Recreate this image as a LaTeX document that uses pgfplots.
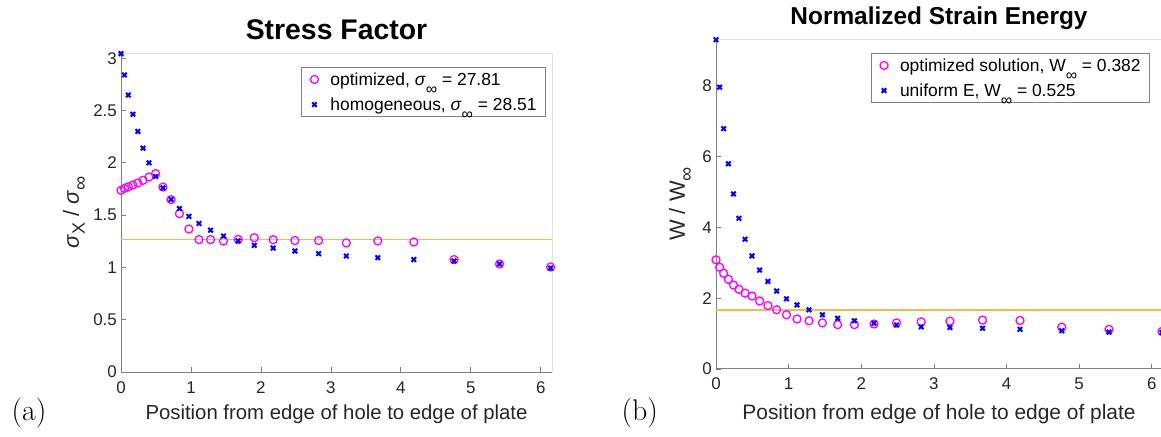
\documentclass[border=0pt]{standalone}
\usepackage{fontspec}
\setsansfont{Liberation Sans}
\renewcommand{\familydefault}{\sfdefault}
\usepackage{pgfplots}
\pgfplotsset{compat=1.18}
\usepackage{pgfplotstable}

\definecolor{axgray}{RGB}{128,128,128}
\definecolor{boxgray}{RGB}{225,225,225}
\definecolor{txt}{RGB}{38,38,38}
\definecolor{mag}{RGB}{255,0,255}
\definecolor{blu}{RGB}{0,0,255}
\definecolor{orng}{RGB}{245,188,75}

% lowered subscript, matlab style: [size]{shift}{text}
\newcommand{\lsub}[3][15]{\raisebox{-#2}{\fontsize{#1}{#1}\selectfont #3}}

% x: position along the plate; opt / hom: the two series
\pgfplotstableread{
x      opt    hom
0      1.737  3.044
0.05   1.756  2.840
0.105  1.771  2.648
0.17   1.788  2.464
0.24   1.807  2.300
0.315  1.833  2.140
0.40   1.864  2.000
0.495  1.897  1.870
0.60   1.768  1.760
0.715  1.648  1.650
0.835  1.514  1.563
0.97   1.367  1.488
1.115  1.266  1.420
1.28   1.266  1.356
1.465  1.253  1.300
1.675  1.268  1.253
1.905  1.284  1.211
2.175  1.265  1.185
2.485  1.257  1.157
2.825  1.257  1.132
3.22   1.234  1.109
3.67   1.253  1.093
4.185  1.243  1.075
4.76   1.075  1.061
5.41   1.033  1.033
6.14   1.004  0.994
}\stress

\pgfplotstableread{
x      opt    uni
0      3.08   9.29
0.05   2.87   7.95
0.105  2.70   6.78
0.17   2.53   5.79
0.24   2.37   4.94
0.315  2.25   4.25
0.40   2.14   3.66
0.495  2.06   3.19
0.60   1.92   2.79
0.715  1.79   2.47
0.835  1.67   2.20
0.97   1.53   1.98
1.115  1.41   1.81
1.28   1.36   1.67
1.465  1.30   1.53
1.675  1.25   1.43
1.905  1.25   1.36
2.175  1.27   1.29
2.485  1.30   1.24
2.825  1.33   1.19
3.22   1.35   1.17
3.67   1.38   1.15
4.185  1.37   1.12
4.76   1.18   1.08
5.41   1.12   1.04
6.14   1.06   1.03
}\energy

\pgfplotsset{
  matlab/.style={
    scale only axis,
    axis lines*=left,
    axis line style={axgray, line width=1bp},
    tick align=inside,
    major tick length=5bp,
    every tick/.style={axgray, line width=0.8bp},
    tick label style={font=\fontsize{17}{17}\selectfont, text=txt},
    /pgf/number format/assume math mode=true,
    xticklabel style={anchor=base, yshift=-21bp},
    yticklabel style={anchor=east, inner sep=0pt, xshift=-4bp},
    xlabel style={anchor=base, text=txt},
    ylabel style={anchor=center, font=\fontsize{22}{22}\selectfont, text=txt},
    title style={anchor=base},
    legend style={draw=axgray, line width=0.8bp, font=\fontsize{17.5}{17.5}\selectfont,
      inner xsep=9bp, inner ysep=3bp, row sep=7bp,
      nodes={inner xsep=0bp, inner ysep=2bp},
      /tikz/every odd column/.append style={column sep=12bp}},
    legend cell align=left,
    clip=false,
    xmin=0, ymin=0,
    xtick={0,1,2,3,4,5,6},
    xlabel={Position from edge of hole to edge of plate},
  },
  optmark/.style={only marks, mark=o, mark size=4bp,
    mark options={line width=1.3bp}, color=mag},
  hommark/.style={only marks, mark=x, mark size=3.2bp,
    mark options={line width=2bp}, color=blu},
  refline/.style={orng, solid, line width=1.7bp, no markers, forget plot},
}

\begin{document}
\begin{tikzpicture}
\path[use as bounding box] (0,0) rectangle (1161bp,437bp);

\begin{axis}[matlab,
  at={(121bp,65bp)}, anchor=south west,
  width=431bp, height=319bp,
  xmax=6.16, ymax=3.05,
  ytick={0,0.5,1,1.5,2,2.5,3},
  xlabel style={at={(axis description cs:0.5,0)}, yshift=-47bp,
    font=\fontsize{20.4}{20.4}\selectfont},
  ylabel style={at={(axis description cs:-0.1067,0.5)}},
  ylabel={\textit{σ}\lsub[18]{6bp}{X} / \textit{σ}\lsub[20]{8bp}{∞}},
  title style={at={(axis description cs:0.5,1)}, yshift=8bp,
    font=\bfseries\fontsize{28.5}{28.5}\selectfont},
  title={Stress Factor},
  legend style={at={(rel axis cs:1,1)}, anchor=north east, xshift=-6bp, yshift=-14bp},
]
\draw[boxgray, line width=0.8bp] (rel axis cs:0,1) -- (rel axis cs:1,1) -- (rel axis cs:1,0);
\addplot+[refline] coordinates {(0,1.266) (6.16,1.266)};
\addplot[optmark] table[x=x, y=opt] {\stress};
\addlegendentry{optimized, \textit{σ}\lsub[16]{9bp}{∞} = 27.81}
\addplot[hommark] table[x=x, y=hom] {\stress};
\addlegendentry{homogeneous, \textit{σ}\lsub[16]{9bp}{∞} = 28.51}
\end{axis}

\begin{axis}[matlab,
  at={(716bp,68bp)}, anchor=south west,
  width=446bp, height=330bp,
  xmax=6.14, ymax=9.31,
  ytick={0,2,4,6,8},
  xlabel style={at={(axis description cs:0.5,0)}, yshift=-50bp,
    font=\fontsize{21}{21}\selectfont},
  ylabel style={at={(axis description cs:-0.0785,0.5)}},
  ylabel={W / W\lsub[20]{8bp}{∞}},
  title style={at={(axis description cs:0.5,1)}, yshift=9bp,
    font=\bfseries\fontsize{24.5}{24.5}\selectfont},
  title={Normalized Strain Energy},
  legend style={at={(rel axis cs:1,1)}, anchor=north east, xshift=-12bp, yshift=-14bp},
]
\draw[boxgray, line width=0.8bp] (rel axis cs:0,1) -- (rel axis cs:1,1) -- (rel axis cs:1,0);
\addplot+[refline] coordinates {(0,1.67) (6.14,1.67)};
\addplot[optmark] table[x=x, y=opt] {\energy};
\addlegendentry{optimized solution, W\lsub[16]{9bp}{∞} = 0.382}
\addplot[hommark] table[x=x, y=uni] {\energy};
\addlegendentry{uniform E, W\lsub[16]{9bp}{∞} = 0.525}
\end{axis}

\node[anchor=base west, font=\rmfamily\fontsize{30}{30}\selectfont] at (8bp,17bp) {(a)};
\node[anchor=base west, font=\rmfamily\fontsize{30}{30}\selectfont] at (618bp,17bp) {(b)};
\end{tikzpicture}
\end{document}
